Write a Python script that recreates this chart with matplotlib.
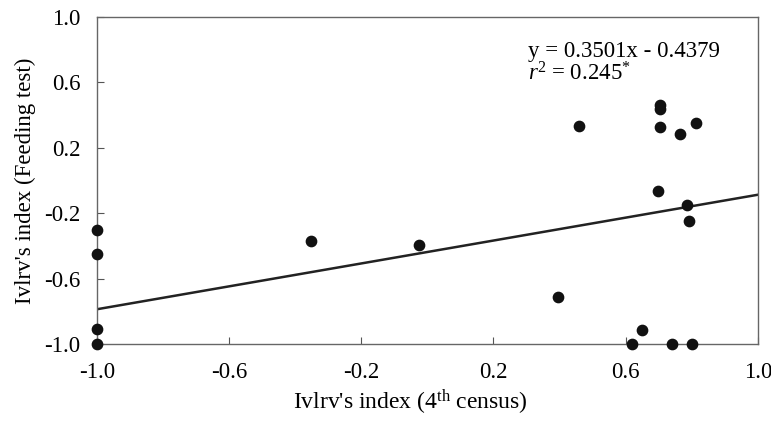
import matplotlib.pyplot as plt

plt.rcParams['font.family'] = ['Liberation Serif', 'DejaVu Serif']
plt.rcParams['mathtext.fontset'] = 'custom'
plt.rcParams['mathtext.rm'] = 'Liberation Serif'
plt.rcParams['mathtext.it'] = 'Liberation Serif:italic'

# Ivlev's index, 4th census (x) vs feeding test (y)
census_idx = [-1.0, -1.0, -1.0, -1.0, -0.351, -0.024, 0.396, 0.459,
              0.703, 0.703, 0.703, 0.765, 0.812, 0.699, 0.787, 0.791,
              0.651, 0.619, 0.741, 0.801]
feeding_idx = [-0.306, -0.453, -0.908, -1.0, -0.371, -0.398, -0.714, 0.333,
               0.459, 0.439, 0.324, 0.286, 0.349, -0.065, -0.149, -0.249,
               -0.914, -1.0, -1.0, -1.0]

slope = 0.3501
intercept = -0.4379
ticks = [-1.0, -0.6, -0.2, 0.2, 0.6, 1.0]

fig = plt.figure(figsize=(7.71, 4.23), dpi=100)
ax = fig.add_axes([0.1258, 0.187, 0.857, 0.773])

line_x = [-1.0, 1.0]
line_y = [slope * v + intercept for v in line_x]
ax.plot(line_x, line_y, color='#222222', lw=1.8, zorder=2)
ax.scatter(census_idx, feeding_idx, s=55, color='#111111', zorder=3, clip_on=False)

ax.set_xlim(-1.0, 1.0)
ax.set_ylim(-1.0, 1.0)
ax.set_xticks(ticks)
ax.set_yticks(ticks)
ax.set_xticklabels([f"{t:.1f}" for t in ticks])
ax.set_yticklabels([f"{t:.1f}" for t in ticks])
ax.tick_params(direction='in', length=5, width=0.8, color='#555555',
               labelsize=16.5)
ax.tick_params(axis='x', pad=13)
ax.tick_params(axis='y', pad=12)

for s in ax.spines.values():
    s.set_color('#666666')
    s.set_linewidth(1.0)

ax.set_xlabel("Ivlrv's index (4$^{\\mathrm{th}}$ census)", fontsize=17)
ax.xaxis.set_label_coords(0.475, -0.135)
ax.set_ylabel("Ivlrv's index (Feeding test)", fontsize=16.5, labelpad=6)

ax.text(0.652, 0.925, "y = 0.3501x - 0.4379", transform=ax.transAxes,
        fontsize=16.5, va='top', ha='left')
ax.text(0.652, 0.86, "$r$$^2$ = 0.245$^{*}$", transform=ax.transAxes,
        fontsize=16.5, va='top', ha='left')

fig.savefig('out.png', dpi=100)
